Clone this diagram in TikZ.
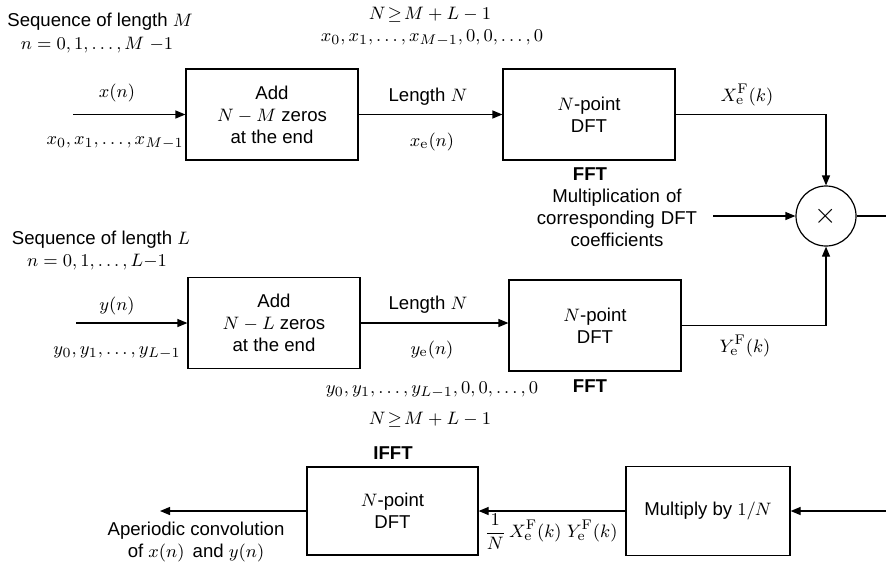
\documentclass[tikz,border=0pt]{standalone}
\usepackage{amsmath}
\usepackage[no-math]{fontspec}
\setmainfont{Liberation Sans}
\usetikzlibrary{arrows.meta, positioning}

\begin{document}
\begin{tikzpicture}[x=0.5pt, y=-0.5pt, font=\fontsize{9.3}{11}\selectfont,
    blockbox/.style={draw, line width=0.6pt, minimum width=86pt, minimum height=45.5pt, align=center, inner sep=2pt},
    lbl/.style={inner sep=1pt, align=center},
    arr/.style={line width=0.6pt, -{Triangle[length=5pt, width=4pt]}},
    wire/.style={line width=0.6pt}]
    \useasboundingbox (0,0) rectangle (886,562);

    % upper branch: x(n)
    \node[lbl] (seqM)  at (100, 22) {Sequence of length $M$};
    \node[lbl] (rngM)  at ( 97, 45) {$n = 0, 1, \ldots, M\ {-}1$};
    \coordinate (xin) at (73, 114.5);
    \node[blockbox] (addx) at (272, 114.5) {Add\\$N-M$ zeros\\at the end};
    \node[blockbox] (dftx) at (589, 114.5) {$N$-point\\DFT};
    \node[lbl] (xn)    at (117,  93) {$x(n)$};
    \node[lbl] (xseq)  at (115, 143) {$x_0, x_1, \ldots, x_{M-1}$};
    \node[lbl] (lenx)  at (428,  97) {Length $N$};
    \node[lbl] (xen)   at (432, 142) {$x_{\mathrm{e}}(n)$};
    \node[lbl] (condx) at (430,  15) {$N\!\geq\! M + L - 1$};
    \node[lbl] (xpad)  at (432,  38) {$x_0, x_1, \ldots, x_{M-1}, 0, 0, \ldots, 0$};
    \node[lbl, font=\fontsize{9.3}{11}\selectfont\bfseries] (fftx) at (590, 174) {FFT};
    \node[lbl] (Xk)    at (747,  95) {$X_{\mathrm{e}}^{\mathrm{F}}(k)$};

    % multiplier
    \node[draw, circle, line width=0.6pt, minimum size=30pt, inner sep=0pt, font=\Large] (mult) at (826, 216) {$\times$};
    \node[lbl, text width=100pt] (multtxt) at (617, 218) {Multiplication of\\corresponding DFT\\coefficients};
    \coordinate (multin)  at (713, 216);
    \coordinate (multout) at (886, 216);

    % lower branch: y(n)
    \node[lbl] (seqL)  at (101, 240) {Sequence of length $L$};
    \node[lbl] (rngL)  at ( 97, 262) {$n = 0, 1, \ldots, L{-}1$};
    \coordinate (yin) at (76, 323);
    \node[blockbox] (addy) at (274, 323) {Add\\$N-L$ zeros\\at the end};
    \node[blockbox] (dfty) at (595, 325.5) {$N$-point\\DFT};
    \node[lbl] (yn)    at (117, 306) {$y(n)$};
    \node[lbl] (yseq)  at (117, 353) {$y_0, y_1, \ldots, y_{L-1}$};
    \node[lbl] (leny)  at (428, 305) {Length $N$};
    \node[lbl] (yen)   at (432, 350) {$y_{\mathrm{e}}(n)$};
    \node[lbl, font=\fontsize{9.3}{11}\selectfont\bfseries] (ffty) at (590, 386) {FFT};
    \node[lbl] (Yk)    at (745, 346) {$Y_{\mathrm{e}}^{\mathrm{F}}(k)$};
    \node[lbl] (ypad)  at (432, 390) {$y_0, y_1, \ldots, y_{L-1}, 0, 0, \ldots, 0$};
    \node[lbl] (condy) at (430, 420) {$N\!\geq\! M + L - 1$};

    % inverse transform
    \coordinate (back) at (886, 511);
    \node[blockbox, minimum width=82pt, minimum height=44.5pt] (mulN) at (708, 511) {Multiply by $1/N$};
    \node[blockbox, minimum width=85.5pt, minimum height=44pt] (idft) at (392.5, 511) {$N$-point\\DFT};
    \node[lbl, font=\fontsize{9.3}{11}\selectfont\bfseries] (ifft) at (393, 453) {IFFT};
    \node[lbl] (prod) at (551, 532) {$\dfrac{1}{N}\,X_{\mathrm{e}}^{\mathrm{F}}(k)\;Y_{\mathrm{e}}^{\mathrm{F}}(k)$};
    \coordinate (res) at (160, 511);
    \node[lbl] (restxt) at (196, 542) {Aperiodic convolution\\of $x(n)$\, and $y(n)$};

    % connectors
    \draw[arr] (xin) -- (addx);
    \draw[arr] (addx) -- (dftx);
    \draw[arr] (dftx.east) -| (mult.north);
    \draw[arr] (multin) -- (mult.west);
    \draw[wire] (mult.east) -- (multout);
    \draw[arr] (yin) -- (addy);
    \draw[arr] (addy.east) -- (dfty.west |- addy.east);
    \draw[arr] (dfty.east) -| (mult.south);
    \draw[arr] (back) -- (mulN);
    \draw[arr] (mulN) -- (idft);
    \draw[arr] (idft) -- (res);
\end{tikzpicture}
\end{document}
